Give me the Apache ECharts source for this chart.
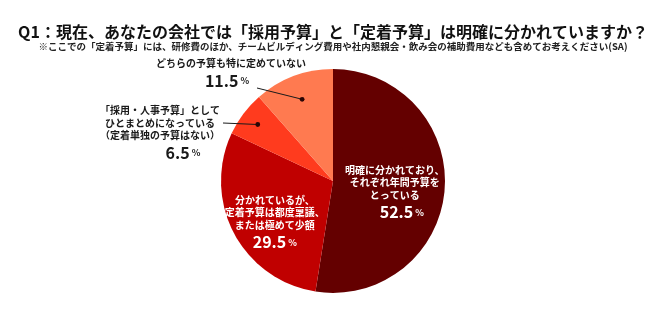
<!DOCTYPE html>
<html>
<head>
<meta charset="utf-8">
<script src="https://cdn.jsdelivr.net/npm/echarts@6/dist/echarts.min.js"></script>
<style>
  html, body { margin: 0; background: #fff; }
  #chart { width: 666px; height: 332px; }
</style>
</head>
<body>
<div id="chart"></div>
<script>
const categories = [
  "明確に分かれており、\nそれぞれ年間予算を\nとっている",
  "分かれているが、\n定着予算は都度稟議、\nまたは極めて少額",
  "「採用・人事予算」として\nひとまとめになっている\n（定着単独の予算はない）",
  "どちらの予算も特に定めていない"
];
const values = [52.5, 29.5, 6.5, 11.5];

const CX = 333, CY = 181, R = 112;
const FONT = '"Noto Sans CJK JP", "Noto Sans", sans-serif';

// thin slices get an outside label, joined by a line to a dot inside the slice
const outerLabels = {
  2: { x: 160, y: 104, end: [223, 123], dot: 0.84 },
  3: { x: 231, y: 57, end: [257, 88], dot: 0.78 }
};
const innerOffset = { 0: [3, 8], 1: [-6, 15] };
const numberPad = [[0, 0, 0, 14], [0, 0, 0, 0], [0, 0, 0, 46], [0, 0, 0, 0]];
const pctPad = [[0, 0, 0, 0], [0, 0, 0, 0], [0, 0, 0, 0], [0, 8, 0, 0]];

function labelFor(i) {
  const inside = !outerLabels[i];
  const ink = inside ? "#fff" : "#1a1a1a";
  const base = { fontFamily: FONT, fontWeight: "bold", color: ink };
  return {
    show: true,
    position: inside ? "inside" : "outside",
    offset: innerOffset[i] || [0, 0],
    align: "center",
    formatter: "{t|{b}}\n{n|{c}}{p| %}",
    rich: {
      t: { ...base, fontSize: 10, lineHeight: 12.5, align: "center" },
      n: { ...base, fontSize: 16, lineHeight: 22, padding: numberPad[i] },
      p: { ...base, fontSize: 9, lineHeight: 22, padding: pctPad[i] }
    }
  };
}

// dot positions: middle angle of each thin slice
const dots = [];
const dotEnds = [];
let acc = 0;
values.forEach((v, i) => {
  if (outerLabels[i]) {
    dots.push([outerLabels[i].dot, acc + v / 2]);
    dotEnds.push(outerLabels[i].end);
  }
  acc += v;
});

const chart = echarts.init(document.getElementById("chart"));
chart.setOption({
  animation: false,
  color: ["#640000", "#c00000", "#ff3b1e", "#ff7a50"],
  title: {
    left: "center",
    top: 17,
    itemGap: -2,
    text: "Q1：現在、あなたの会社では「採用予算」と「定着予算」は明確に分かれていますか？",
    subtext: "※ここでの「定着予算」には、研修費のほか、チームビルディング費用や社内懇親会・飲み会の補助費用なども含めてお考えください(SA)",
    textStyle: { fontFamily: FONT, fontSize: 16, fontWeight: "bold", color: "#111", lineHeight: 20 },
    subtextStyle: { fontFamily: FONT, fontSize: 9.5, fontWeight: "bold", color: "#222", lineHeight: 12 }
  },
  polar: { center: [CX, CY], radius: R },
  angleAxis: { type: "value", min: 0, max: 100, startAngle: 90, clockwise: true, show: false },
  radiusAxis: { type: "value", min: 0, max: 1, show: false },
  series: [
    {
      type: "pie",
      center: [CX, CY],
      radius: [0, R],
      startAngle: 90,
      clockwise: true,
      avoidLabelOverlap: false,
      silent: true,
      labelLine: { show: false },
      labelLayout(params) {
        const o = outerLabels[params.dataIndex];
        if (!o) return {};
        return { x: o.x, y: o.y, align: "center", verticalAlign: "top" };
      },
      data: values.map((v, i) => ({ value: v, name: categories[i], label: labelFor(i) }))
    },
    {
      type: "custom",
      coordinateSystem: "polar",
      silent: true,
      z: 5,
      renderItem(params, api) {
        const p = api.coord([api.value(0), api.value(1)]);
        const end = dotEnds[params.dataIndex];
        return {
          type: "group",
          children: [
            { type: "line", shape: { x1: p[0], y1: p[1], x2: end[0], y2: end[1] }, style: { stroke: "#1a1a1a", lineWidth: 1 } },
            { type: "circle", shape: { cx: p[0], cy: p[1], r: 2.4 }, style: { fill: "#2a0505" } }
          ]
        };
      },
      data: dots
    }
  ]
});
</script>
</body>
</html>
